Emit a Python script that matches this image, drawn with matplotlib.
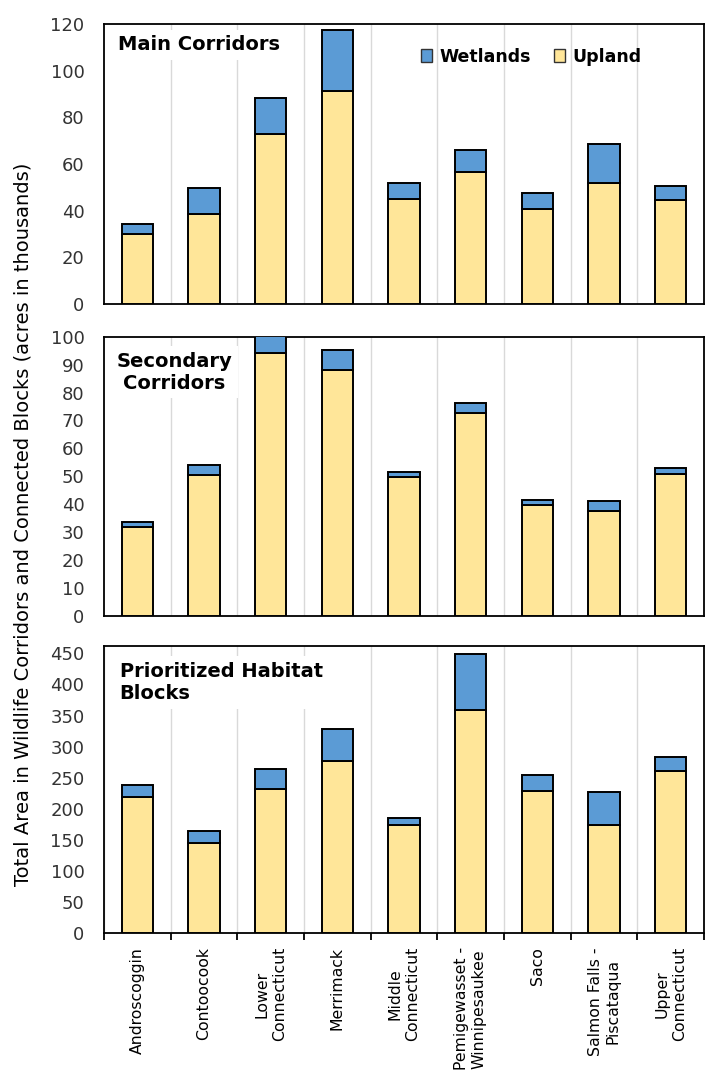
import matplotlib
matplotlib.use("Agg")
import matplotlib.pyplot as plt
import numpy as np
from matplotlib.patches import Patch

plt.rcParams['font.family'] = ['DejaVu Sans']

# watershed names (tick labels)
basins = ["Androscoggin", "Contoocook", "Lower\nConnecticut", "Merrimack",
          "Middle\nConnecticut", "Pemigewasset -\nWinnipesaukee", "Saco",
          "Salmon Falls -\nPiscataqua", "Upper\nConnecticut"]

# acres in thousands
main_upland = [30, 38.6, 73, 91.3, 44.9, 56.7, 40.6, 51.9, 44.7]
main_total = [34.3, 49.9, 88.4, 117.4, 51.9, 65.9, 47.7, 68.7, 50.6]

sec_upland = [32.0, 50.4, 94.0, 87.9, 49.9, 72.7, 39.9, 37.5, 51.0]
sec_total = [33.5, 53.9, 100.5, 95.2, 51.6, 76.4, 41.6, 41.1, 52.9]

blk_upland = [218.5, 144.6, 232.5, 276.9, 174, 358.9, 229.2, 174, 261.4]
blk_total = [237.8, 163.9, 264, 327.8, 184.8, 448.8, 253.9, 227.1, 282.8]

upland_col = '#FFE699'
wet_col = '#5B9BD5'

W, H = 705, 1074
fig = plt.figure(figsize=(W / 100, H / 100), dpi=100)


def px_axes(top, bottom, left=104, right=704):
    return fig.add_axes([left / W, 1 - bottom / H, (right - left) / W, (bottom - top) / H])


panels = [
    (24, 304, main_upland, main_total, 120, 20, "Main Corridors", 'left', 0.023, 0.96),
    (336.7, 616, sec_upland, sec_total, 100, 10, "Secondary\nCorridors", 'center', 0.1175, 0.947),
    (645.7, 933.3, blk_upland, blk_total, 462.2, 50, "Prioritized Habitat\nBlocks", 'left', 0.026, 0.943),
]

x = np.arange(len(basins))
axes = []
for i, (top, bot, up, tot, ymax, step, title, ha, tx, ty) in enumerate(panels):
    ax = px_axes(top, bot)
    axes.append(ax)
    wet = [t - u for t, u in zip(tot, up)]
    ax.bar(x, up, width=0.47, color=upland_col, edgecolor='black', linewidth=1.4, zorder=3)
    ax.bar(x, wet, bottom=up, width=0.47, color=wet_col, edgecolor='black', linewidth=1.4, zorder=3)
    ax.set_xlim(-0.5, len(basins) - 0.5)
    ax.set_ylim(0, ymax)
    ax.set_yticks(np.arange(0, ymax + 0.01, step))
    ax.tick_params(axis='y', length=0, pad=14, labelsize=13, labelcolor='#333333')
    ax.set_xticks(np.arange(0.5, len(basins) - 1, 1), minor=True)
    ax.grid(True, which='minor', axis='x', color='#D9D9D9', linewidth=1, zorder=0)
    for s in ax.spines.values():
        s.set_linewidth(1.3)
    if i < 2:
        ax.set_xticks([])
        ax.tick_params(axis='x', which='minor', length=0)
    else:
        ax.set_xticks(x)
        ax.set_xticklabels(basins, rotation=90, va='top', ha='center',
                           multialignment='center', fontsize=11.3)
        ax.tick_params(axis='x', which='major', length=0, pad=10)
        ax.set_xticks(np.arange(-0.5, len(basins), 1), minor=True)
        ax.tick_params(axis='x', which='minor', length=5, width=1.3, direction='out')
    ax.text(tx, ty, title, transform=ax.transAxes, ha=ha, va='top',
            fontsize=14, fontweight='bold', linespacing=1.2, zorder=2,
            bbox=dict(facecolor='white', edgecolor='none', pad=4))

handles = [Patch(facecolor=wet_col, edgecolor='#333333', label='Wetlands'),
           Patch(facecolor=upland_col, edgecolor='#333333', label='Upland')]
axes[0].legend(handles=handles, ncol=2, loc='center left', bbox_to_anchor=(0.528, 0.883),
               frameon=False, prop={'weight': 'bold', 'size': 12.5},
               borderaxespad=0, borderpad=0,
               handlelength=0.64, handleheight=0.8, handletextpad=0.42, columnspacing=1.35)

fig.text(23 / W, 1 - 524 / H,
         "Total Area in Wildlife Corridors and Connected Blocks (acres in thousands)",
         rotation=90, ha='center', va='center', fontsize=14)

fig.savefig("out.png", dpi=100)
